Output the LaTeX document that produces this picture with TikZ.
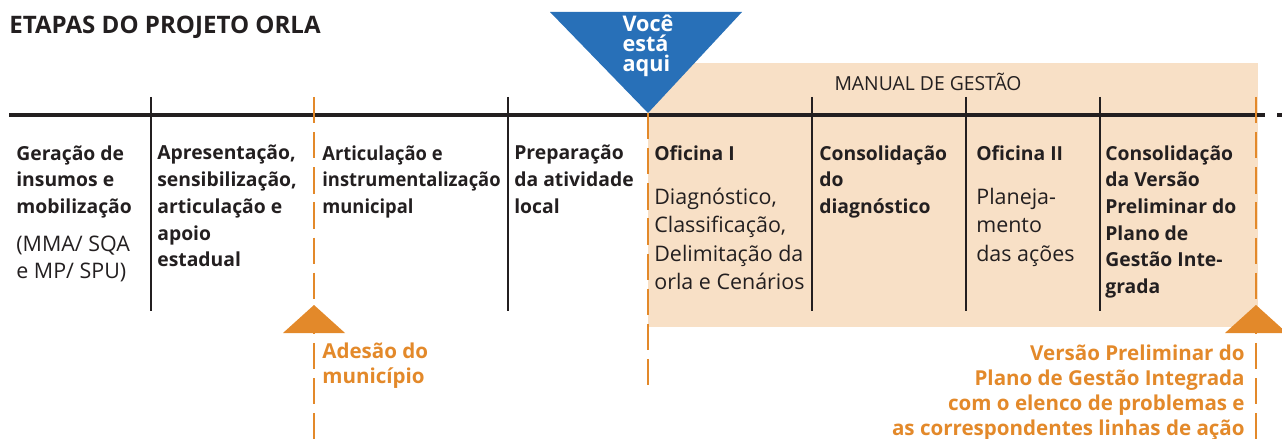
\documentclass[tikz,border=0pt]{standalone}
\usepackage{fontspec}
\setmainfont{Open Sans}
\usetikzlibrary{positioning,calc}

\definecolor{orlablue}{RGB}{40,112,184}
\definecolor{orlasand}{RGB}{248,224,198}
\definecolor{orlaorange}{RGB}{227,137,42}
\definecolor{orlaink}{RGB}{35,31,32}

\tikzset{
  % Stage heading (bold)
  stagetext/.style={
    anchor=north west, inner sep=0pt, align=left, text=orlaink,
    font=\fontsize{11}{15.2}\selectfont\bfseries
  },
  % Stage description (regular)
  stagenote/.style={
    anchor=north west, inner sep=0pt, align=left, text=orlaink,
    font=\fontsize{12.2}{16.1}\selectfont
  },
  % Thin separator between stages
  sepline/.style={draw=orlaink, line width=0.8pt},
  % Orange dashed milestone line
  markline/.style={draw=orlaorange, line width=1.2pt, dash pattern=on 15pt off 5pt},
  % Orange milestone label
  marklabel/.style={
    inner sep=0pt, text=orlaorange,
    font=\fontsize{11.7}{14.2}\selectfont\bfseries
  },
}

\begin{document}
\begin{tikzpicture}[x=0.02cm, y=-0.02cm]
\useasboundingbox (0,0) rectangle (1282,439);

% ── Title ─────────────────────────────────────────────────────────────────────
\node[anchor=north west, inner sep=0pt, text=orlaink,
      font=\fontsize{13.7}{16}\selectfont\bfseries]
  (title) at (9,16) {ETAPAS DO PROJETO ORLA};

% ── Manual de gestão panel ────────────────────────────────────────────────────
\fill[orlasand] (648,63) rectangle (1258,327);
\node[inner sep=0pt, text=orlaink, font=\fontsize{11}{12}\selectfont]
  (manual) at (928,82) {MANUAL DE GESTÃO};

% ── Timeline ──────────────────────────────────────────────────────────────────
\coordinate (tl-start) at (9,115);
\coordinate (tl-end) at (1265,115);
\draw[orlaink, line width=2.8pt] (tl-start) -- (tl-end);
\draw[orlaink, line width=2.8pt] (1277,115) -- (1286,115);

% Separators between stages
\foreach \x in {151,508,812,966,1100}{
  \draw[sepline] (\x,97) -- (\x,311);
}

% ── Milestones ────────────────────────────────────────────────────────────────
\coordinate (adesao) at (314,305);
\coordinate (versao) at (1256,305);
\coordinate (aqui) at (648,113);

\draw[markline] (314,97) -- (314,439);
\draw[markline] (aqui) -- (648,389);
\draw[markline] (1256,97) -- (1256,439);

\foreach \m in {adesao,versao}{
  \fill[orlaorange] (\m) -- ++(31,28) -- ++(-62,0) -- cycle;
}

% "Você está aqui" marker
\fill[orlablue] (550,12) -- (742,12) -- (aqui) -- cycle;
\node[inner sep=0pt, align=left, text=white,
      font=\fontsize{12.3}{11.3}\selectfont\bfseries]
  (here) at (648,46) {Você\\está\\aqui};

% ── Stages ────────────────────────────────────────────────────────────────────
\node[stagetext] (geracao) at (16,145) {Geração de\\insumos e\\mobilização};
\node[stagenote, below=10pt of geracao.south west, anchor=north west,
      font=\fontsize{12.2}{15.4}\selectfont]
  (geracao-note) {(MMA/ SQA\\e MP/ SPU)};

\node[stagetext] (apresentacao) at (157,145)
  {Apresentação,\\sensibilização,\\articulação e\\apoio\\estadual};

\node[stagetext, font=\fontsize{11}{15.2}\selectfont\bfseries\addfontfeature{FakeStretch=0.95}]
  (articulacao) at (322,145)
  {Articulação e\\instrumentalização\\municipal};

\node[stagetext] (preparacao) at (514,145)
  {Preparação\\da atividade\\local};

\node[stagetext] (oficina1) at (654,145) {Oficina I};
\node[stagenote, below=15.5pt of oficina1.south west, anchor=north west]
  (oficina1-note)
  {Diagnóstico,\\Classificação,\\Delimitação da\\orla e Cenários};

\node[stagetext] (consolidacao) at (819,145)
  {Consolidação\\do\\diagnóstico};

\node[stagetext] (oficina2) at (976,145) {Oficina II};
\node[stagenote, below=15.5pt of oficina2.south west, anchor=north west]
  (oficina2-note) {Planeja-\\mento\\das ações};

\node[stagetext] (versao-stage) at (1105,145)
  {Consolidação\\da Versão\\Preliminar do\\Plano de\\Gestão Inte-\\grada};

% ── Milestone labels ──────────────────────────────────────────────────────────
\node[marklabel, anchor=north west, align=left] (adesao-label) at (322,343)
  {Adesão do\\município};

\node[marklabel, anchor=north east, align=right] (versao-label) at (1245,345)
  {Versão Preliminar do\\Plano de Gestão Integrada\\com o elenco de problemas e\\as correspondentes linhas de ação};

\end{tikzpicture}
\end{document}
